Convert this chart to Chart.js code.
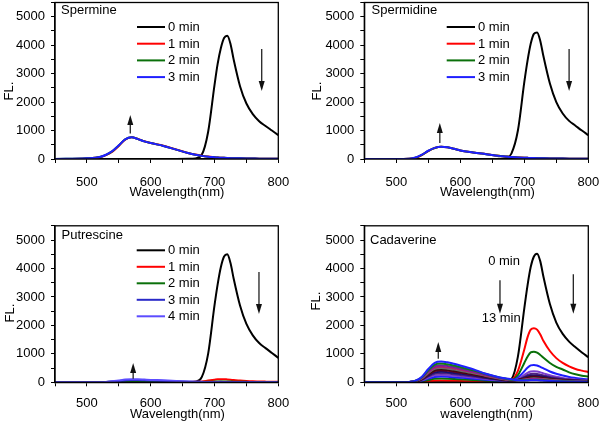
<!DOCTYPE html>
<html><head><meta charset="utf-8">
<script src="https://cdn.jsdelivr.net/npm/chart.js@4"></script>
<style>
html,body{margin:0;padding:0;background:#fff;width:600px;height:424px;overflow:hidden}
canvas{position:absolute}
</style></head><body>
<canvas id="c1" width="300" height="212" style="left:0;top:0"></canvas>
<canvas id="c2" width="300" height="212" style="left:300px;top:0"></canvas>
<canvas id="c3" width="300" height="212" style="left:0;top:212px"></canvas>
<canvas id="c4" width="300" height="212" style="left:300px;top:212px"></canvas>
<script>
// ---------- data ----------
const wavelength = [450,500,520,530,540,550,560,570,580,590,600,620,640,660,670,680,690,700,705,710,715,720,725,730,740,750,760,770,780,790,800];
const minLabels4 = ['0 min','1 min','2 min','3 min'];
const minLabels5 = ['0 min','1 min','2 min','3 min','4 min'];

// Spermine
const spermine0 = [0,0,0,0,0,0,0,0,0,0,0,0,0,5,20,150,950,2600,3350,3900,4250,4330,4050,3500,2560,1950,1580,1330,1160,1000,840];
const spermine1 = [0,20,60,135,260,460,680,765,705,625,565,465,335,205,155,115,85,62,52,46,41,36,31,29,23,19,16,13,11,9,6];
const spermine2 = [0,24,68,148,276,476,688,760,700,620,560,460,330,200,150,110,80,60,50,45,40,35,30,28,22,18,15,12,10,8,5];
const spermine3 = [0,25,70,150,280,480,690,760,700,620,560,460,330,200,150,110,80,60,50,45,40,35,30,28,22,18,15,12,10,8,5];

// Spermidine
const spermidine0 = [0,0,0,0,0,0,0,0,0,0,0,0,0,5,20,200,1000,2700,3450,4050,4400,4450,4150,3600,2650,2000,1600,1340,1170,1000,840];
const spermidine1 = [0,0,8,45,140,280,385,432,412,362,302,232,172,112,92,72,56,46,41,36,33,31,29,26,21,18,15,13,11,9,7];
const spermidine2 = [0,0,9,48,146,286,388,431,411,361,301,231,171,111,91,71,55,45,40,35,32,30,28,25,20,17,14,12,10,8,6];
const spermidine3 = [0,0,10,50,150,290,390,430,410,360,300,230,170,110,90,70,55,45,40,35,32,30,28,25,20,17,14,12,10,8,6];

// Putrescine
const putrescine0 = [0,0,0,0,0,0,0,0,0,0,0,0,0,5,20,180,1000,2700,3450,4050,4420,4500,4200,3650,2700,2050,1650,1380,1200,1030,860];
const putrescine1 = [0,0,2,5,8,12,20,25,25,22,20,15,12,10,15,30,60,90,105,110,110,100,90,80,60,45,35,30,25,20,15];
const putrescine2 = [0,0,3,8,15,25,40,48,45,40,35,28,20,12,10,10,15,25,30,32,30,28,25,22,18,15,12,10,8,6,5];
const putrescine3 = [0,0,5,12,25,45,65,80,78,70,62,50,35,20,15,12,10,12,14,15,14,13,12,11,9,8,7,6,5,4,3];
const putrescine4 = [0,0,6,15,35,65,95,110,105,95,85,68,48,28,20,15,10,8,7,6,6,5,5,4,4,3,3,2,2,2,1];

// Cadaverine (0 ... 13 min)
const cadLabels = ['0 min','1 min','2 min','3 min','4 min','5 min','6 min','7 min','8 min','9 min','10 min','11 min','12 min','13 min'];
const cad0  = [0,0,0,0,0,0,0,0,0,0,0,0,0,5,20,110,900,2600,3400,4050,4420,4520,4250,3700,2750,2100,1700,1430,1230,1050,880];
const cad1  = [0,0,1,5,16,38,56,60,58,53,49,38,26,16,12,70,400,1150,1580,1850,1900,1850,1680,1450,1100,850,680,560,470,410,360];
const cad2  = [0,0,3,10,35,83,122,130,125,116,105,83,57,35,26,60,250,680,900,1050,1075,1040,960,860,680,540,450,350,280,230,200];
const cad3  = [0,0,4,16,54,128,188,200,192,178,162,128,88,54,40,55,160,390,510,595,610,590,545,490,380,300,240,190,155,125,105];
const cad4  = [0,0,5,21,70,166,244,260,250,231,211,166,114,70,52,55,110,260,335,378,390,378,350,315,245,195,155,125,100,85,72];
const cad5  = [0,0,6,26,86,205,301,320,307,285,259,205,141,86,64,55,95,195,255,290,300,290,268,242,188,148,118,96,80,66,56];
const cad6  = [0,0,7,30,100,237,348,370,355,329,300,237,163,100,74,58,85,160,205,232,240,232,214,194,150,118,94,77,64,53,45];
const cad7  = [0,0,8,34,113,269,395,420,403,374,340,269,185,113,84,62,80,135,170,193,200,193,178,162,125,98,78,64,54,44,38];
const cad8  = [0,0,9,37,124,294,432,460,442,409,373,294,202,124,92,66,78,115,145,165,170,164,151,137,106,83,66,55,46,38,32];
const cad9  = [0,0,10,40,135,320,470,500,480,445,405,320,220,135,100,70,75,98,120,136,140,135,125,113,88,69,55,45,38,31,27];
const cad10 = [0,0,11,44,149,352,517,550,528,490,446,352,242,149,110,75,72,86,102,116,120,116,107,97,75,59,47,39,32,27,23];
const cad11 = [0,0,12,48,162,384,564,600,576,534,486,384,264,162,120,80,70,75,86,96,100,97,89,81,63,49,39,32,27,22,19];
const cad12 = [0,0,13,53,178,422,620,660,634,587,535,422,290,178,132,88,68,68,74,82,85,82,76,69,54,42,33,27,23,19,16];
const cad13 = [0,0,15,58,197,467,686,730,701,650,591,460,300,180,140,110,70,60,64,68,70,68,63,57,45,35,28,23,19,16,13];

// ---------- styles ----------
const FONT = '"Liberation Sans", Arial, sans-serif';
Chart.defaults.color = '#000';
Chart.defaults.font.family = FONT;
Chart.defaults.font.size = 13;

function series(labels, arrays, colors) {
  const n = arrays.length;
  return arrays.map((vals, i) => ({
    label: labels[i],
    data: wavelength.map((w, j) => ({x: w, y: vals[j]})),
    borderColor: colors[i],
    backgroundColor: colors[i],
    borderWidth: 2,
    pointRadius: 0,
    fill: false,
    cubicInterpolationMode: 'monotone',
    order: n - i
  }));
}

const decor = {
  id: 'decor',
  afterDraw(chart, args, o) {
    const ctx = chart.ctx, a = chart.chartArea, xs = chart.scales.x, ys = chart.scales.y;
    ctx.save();
    ctx.strokeStyle = '#000'; ctx.lineWidth = 1.3;
    ctx.strokeRect(a.left, a.top, a.right - a.left, a.bottom - a.top);
    ctx.fillStyle = '#000';
    ctx.font = '13px ' + FONT;
    ctx.textAlign = 'left'; ctx.textBaseline = 'alphabetic';
    ctx.fillText(o.name, o.nameX, o.nameY);
    ctx.textAlign = 'center';
    ctx.fillText(o.xTitle, o.xTitleX, o.xTitleY);
    ctx.save();
    ctx.translate(o.yTitleX, o.yTitleY); ctx.rotate(-Math.PI / 2);
    ctx.textBaseline = 'middle'; ctx.fillText('FL.', 0, 0);
    ctx.restore();
    if (o.legend) {
      const L = o.legend;
      chart.data.datasets.forEach((d, i) => {
        const y = L.y0 + i * L.dy;
        ctx.strokeStyle = d.borderColor; ctx.lineWidth = 2;
        ctx.beginPath(); ctx.moveTo(L.x1, y); ctx.lineTo(L.x2, y); ctx.stroke();
        ctx.fillStyle = '#000'; ctx.textAlign = 'left'; ctx.textBaseline = 'middle';
        ctx.fillText(d.label, L.x2 + 3, y + 0.5);
      });
    }
    (o.notes || []).forEach(nt => {
      ctx.fillStyle = '#000'; ctx.textAlign = 'left'; ctx.textBaseline = 'middle';
      ctx.fillText(nt[0], xs.getPixelForValue(nt[1]), ys.getPixelForValue(nt[2]));
    });
    (o.arrows || []).forEach(ar => {
      const x = xs.getPixelForValue(ar[0]);
      const y1 = ys.getPixelForValue(ar[1]), y2 = ys.getPixelForValue(ar[2]);
      const dir = y2 > y1 ? 1 : -1;
      ctx.strokeStyle = '#222'; ctx.fillStyle = '#111'; ctx.lineWidth = 1.3;
      ctx.beginPath(); ctx.moveTo(x, y1); ctx.lineTo(x, y2 - dir * 6); ctx.stroke();
      ctx.beginPath(); ctx.moveTo(x, y2); ctx.lineTo(x - 3, y2 - dir * 10); ctx.lineTo(x + 3, y2 - dir * 10); ctx.closePath(); ctx.fill();
    });
    ctx.restore();
  }
};

function makePanel(p) {
  return new Chart(document.getElementById(p.id), {
    type: 'line',
    data: {datasets: p.datasets},
    plugins: [decor],
    options: {
      responsive: false, animation: false, devicePixelRatio: 1,
      layout: {padding: {left: 0, top: p.top, right: p.right, bottom: 0}},
      plugins: {legend: {display: false}, tooltip: {enabled: false}, decor: p.decor},
      scales: {
        x: {
          type: 'linear', min: 450, max: 800,
          border: {display: true, color: '#000', width: 1.3},
          grid: {display: true, drawOnChartArea: false, drawTicks: true, tickLength: 4, tickColor: '#000', tickWidth: 1},
          ticks: {stepSize: 50, autoSkip: false, maxRotation: 0, padding: p.xPad,
            callback: v => (v % 100 === 0 ? String(v) : '')},
          afterFit(s) { s.height = p.xHeight; s.paddingLeft = 0; s.paddingRight = 0; }
        },
        y: {
          min: 0, max: 5500,
          border: {display: true, color: '#000', width: 1.3},
          grid: {display: true, drawOnChartArea: false, drawTicks: true, tickLength: 4, tickColor: '#000', tickWidth: 1},
          ticks: {stepSize: 500, autoSkip: false, padding: 6,
            callback: v => (v % 1000 === 0 ? String(v) : '')},
          afterFit(s) { s.width = p.yWidth; s.paddingTop = 0; s.paddingBottom = 0; }
        }
      }
    }
  });
}

const colors4 = ['#000000', '#ff0000', '#0a700a', '#1f1fff'];
const colors5 = ['#000000', '#ff0000', '#0a700a', '#2a2ac8', '#5c4cff'];
const cadColors = ['#000000','#ff0000','#0a700a','#1c1cff','#7b3fd0','#502080','#101070','#600020','#3a0a0a','#6a6a6a','#b0206a','#7020a0','#108010','#2020ff'];

makePanel({
  id: 'c1', top: 2.5, right: 21.7, yWidth: 55, xHeight: 53, xPad: 12,
  datasets: series(minLabels4, [spermine0, spermine1, spermine2, spermine3], colors4),
  decor: {name: 'Spermine', nameX: 61, nameY: 14, xTitle: 'Wavelength(nm)', xTitleX: 177, xTitleY: 196,
    yTitleX: 9, yTitleY: 91, legend: {x1: 137, x2: 165, y0: 27, dy: 16.7},
    arrows: [[568, 900, 1546], [774, 3865, 2389]]}
});
makePanel({
  id: 'c2', top: 2.5, right: 11.7, yWidth: 64.3, xHeight: 53, xPad: 12,
  datasets: series(minLabels4, [spermidine0, spermidine1, spermidine2, spermidine3], colors4),
  decor: {name: 'Spermidine', nameX: 71.5, nameY: 14, xTitle: 'Wavelength(nm)', xTitleX: 187.5, xTitleY: 196,
    yTitleX: 17.5, yTitleY: 91, legend: {x1: 146.7, x2: 175, y0: 27, dy: 16.7},
    arrows: [[568, 562, 1265], [770, 3865, 2389]]}
});
makePanel({
  id: 'c3', top: 13.8, right: 21.7, yWidth: 55, xHeight: 41.7, xPad: 9,
  datasets: series(minLabels5, [putrescine0, putrescine1, putrescine2, putrescine3, putrescine4], colors5),
  decor: {name: 'Putrescine', nameX: 61.5, nameY: 27, xTitle: 'Wavelength(nm)', xTitleX: 177.5, xTitleY: 206,
    yTitleX: 10, yTitleY: 101, legend: {x1: 136.7, x2: 165, y0: 38.3, dy: 16.5},
    arrows: [[572.5, 126, 678], [769.7, 3876, 2400]]}
});
makePanel({
  id: 'c4', top: 13.8, right: 11.7, yWidth: 64.3, xHeight: 41.7, xPad: 9,
  datasets: series(cadLabels, [cad0, cad1, cad2, cad3, cad4, cad5, cad6, cad7, cad8, cad9, cad10, cad11, cad12, cad13], cadColors),
  decor: {name: 'Cadaverine', nameX: 70, nameY: 31.5, xTitle: 'wavelength(nm)', xTitleX: 186.5, xTitleY: 206,
    yTitleX: 16, yTitleY: 89,
    notes: [['0 min', 643.6, 4262], ['13 min', 633.4, 2259]],
    arrows: [[662, 3584, 2410], [776.6, 3795, 2410], [565.6, 829, 1416]]}
});
</script>
</body></html>
